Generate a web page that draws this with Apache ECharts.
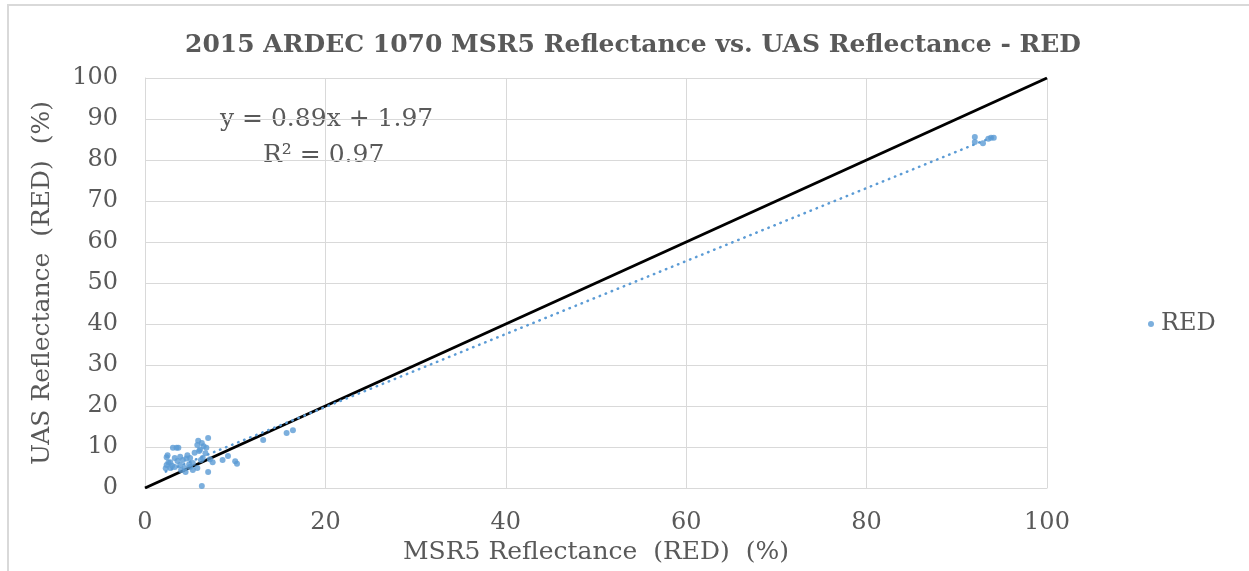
<!DOCTYPE html>
<html>
<head>
<meta charset="utf-8">
<script src="https://cdn.jsdelivr.net/npm/echarts@6/dist/echarts.min.js"></script>
<style>
html,body{margin:0;padding:0;background:#fff;}
#frame{position:absolute;left:7px;top:4px;width:1242px;height:567px;border-left:2px solid #d9d9d9;border-top:2px solid #d9d9d9;box-sizing:border-box;}
#chart{position:absolute;left:0;top:0;width:1249px;height:571px;}
</style>
</head>
<body>
<div id="frame"></div>
<div id="chart"></div>
<script>
var titleText = '2015 ARDEC 1070 MSR5 Reflectance vs. UAS Reflectance - RED';
var xAxisName = 'MSR5 Reflectance  (RED)  (%)';
var yAxisName = 'UAS Reflectance  (RED)  (%)';
var seriesName = 'RED';
var equationText = 'y = 0.89x + 1.97';
var r2Text = 'R\u00B2 = 0.97';

var msr5 = [2.3,2.4,2.4,2.5,2.6,2.8,2.8,3.0,3.1,3.3,3.3,3.5,3.6,3.7,3.9,3.9,4.0,4.2,4.4,4.5,4.6,4.7,4.9,5.0,5.0,5.3,5.3,5.5,5.8,5.8,5.9,6.0,6.1,6.2,6.3,6.3,6.4,6.5,6.7,6.8,7.0,7.0,7.2,7.5,8.6,9.2,10.0,10.2,13.1,15.7,16.4,92.0,92.0,92.9,93.5,93.8,94.1];
var uas  = [4.8,5.6,7.5,8.0,6.2,4.9,6.3,5.4,9.8,7.3,5.1,9.8,6.6,9.8,7.6,5.6,4.4,6.8,4.9,3.9,7.2,8.0,5.8,7.3,5.1,6.1,4.4,8.6,4.9,10.5,11.5,9.0,9.3,6.8,11.0,0.5,7.3,10.2,8.5,9.8,12.2,3.9,7.0,6.3,6.8,7.8,6.5,5.9,11.7,13.4,14.1,85.6,84.4,84.1,85.2,85.4,85.4];

var oneToOneX = [0, 100];
var oneToOneY = [0, 100];
var trendX = [2.3, 94.1];
var trendY = [4.0, 85.7];

var xTicks = [0, 20, 40, 60, 80, 100];
var yTicks = [0, 10, 20, 30, 40, 50, 60, 70, 80, 90, 100];

var font = 'DejaVu Serif';
var gray = '#595959';

var chart = echarts.init(document.getElementById('chart'), null, {renderer: 'canvas'});
chart.setOption({
  animation: false,
  backgroundColor: 'transparent',
  title: {
    text: titleText,
    left: 628, top: 28, textAlign: 'center',
    textStyle: {fontFamily: font, fontSize: 25, fontWeight: 'bold', color: gray}
  },
  legend: {
    data: [seriesName],
    left: 1143, top: 307,
    itemWidth: 6, itemHeight: 6, itemGap: 6,
    textStyle: {fontFamily: font, fontSize: 24, color: gray, padding: [0, 0, 0, 2]}
  },
  grid: {left: 145, right: 202, top: 78, bottom: 83, containLabel: false},
  xAxis: {
    type: 'value', min: 0, max: 100, interval: 20,
    name: xAxisName, nameLocation: 'middle', nameGap: 52,
    nameTextStyle: {fontFamily: font, fontSize: 25, color: gray},
    axisLine: {show: true, lineStyle: {color: '#d9d9d9', width: 1}},
    axisTick: {show: false},
    axisLabel: {fontFamily: font, fontSize: 24, color: gray, margin: 23,
      formatter: function(v){ return xTicks.indexOf(v) >= 0 ? String(v) : ''; }},
    splitLine: {show: true, lineStyle: {color: '#d9d9d9', width: 1}}
  },
  yAxis: {
    type: 'value', min: 0, max: 100, interval: 10,
    name: yAxisName, nameLocation: 'middle', nameGap: 90, nameRotate: 90,
    nameTextStyle: {fontFamily: font, fontSize: 25, color: gray},
    axisLine: {show: true, lineStyle: {color: '#d9d9d9', width: 1}},
    axisTick: {show: false},
    axisLabel: {fontFamily: font, fontSize: 24, color: gray, margin: 27,
      formatter: function(v){ return yTicks.indexOf(v) >= 0 ? String(v) : ''; }},
    splitLine: {show: true, lineStyle: {color: '#d9d9d9', width: 1}}
  },
  graphic: [
    {type: 'text', left: 220, top: 107, style: {text: equationText, font: '25px "DejaVu Serif"', fill: gray}},
    {type: 'text', left: 263, top: 143, style: {text: r2Text, font: '25px "DejaVu Serif"', fill: gray}}
  ],
  series: [
    {
      name: 'oneToOne', type: 'line', silent: true, symbol: 'none',
      data: oneToOneX.map(function(x, i){ return [x, oneToOneY[i]]; }),
      lineStyle: {color: '#000000', width: 3}, z: 3
    },
    {
      name: 'trend', type: 'line', silent: true, symbol: 'none',
      data: trendX.map(function(x, i){ return [x, trendY[i]]; }),
      lineStyle: {color: '#5b9bd5', width: 2.5, type: [0.5, 6], cap: 'round'}, z: 4
    },
    {
      name: seriesName, type: 'scatter', symbol: 'circle', symbolSize: 6,
      data: msr5.map(function(x, i){ return [x, uas[i]]; }),
      itemStyle: {color: '#5b9bd5'}, z: 5
    }
  ]
});
</script>
</body>
</html>
